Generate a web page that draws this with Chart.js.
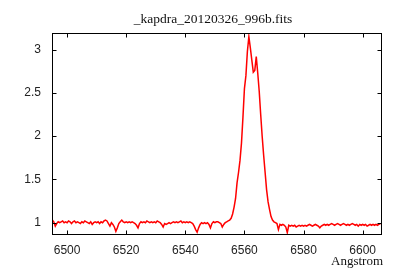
<!DOCTYPE html>
<html><head><meta charset="utf-8">
<script src="https://cdn.jsdelivr.net/npm/chart.js@4.4.1/dist/chart.umd.min.js"></script>
<style>html,body{margin:0;padding:0;background:#fff}#wrap{width:400px;height:280px}</style>
</head><body><div id="wrap"><canvas id="c" width="400" height="280"></canvas></div>
<script>
const chartTitle = '_kapdra_20120326_996b.fits';
const xAxisLabel = 'Angstrom';
// linear dispersion of the spectrum (start wavelength and step, Angstrom)
const wavelengthStart = 6495.0;
const wavelengthStep = 0.5;
const flux = [
  1.03,1.01,0.96,0.99,1.01,1.00,1.01,1.02,1.00,1.01, 1.00,1.02,1.01,0.99,1.01,1.02,1.00,1.01,1.00,0.99,
  1.01,1.00,1.02,1.01,1.00,0.99,1.01,0.98,1.00,1.01, 1.00,1.01,0.99,1.01,1.00,1.02,1.03,1.02,0.99,0.96,
  1.00,0.98,0.95,0.90,0.94,0.99,1.01,1.03,1.01,1.00, 1.01,1.00,1.01,1.00,1.01,1.00,0.99,0.97,0.94,0.99,
  1.01,1.00,1.01,1.00,1.02,1.01,1.00,1.01,1.00,1.01, 1.00,1.02,1.01,1.00,0.98,0.95,0.99,0.98,0.99,1.00,
  0.99,1.00,1.01,1.00,1.01,1.00,1.01,1.02,1.00,1.01, 1.00,1.01,1.00,1.01,1.00,0.99,0.96,0.92,0.89,0.94,
  0.98,1.00,0.99,1.00,0.99,1.00,0.98,0.94,0.99,1.01, 1.00,1.01,1.01,1.00,0.99,0.95,0.98,1.00,1.01,1.02,
  1.03,1.05,1.10,1.18,1.28,1.46,1.58,1.72,1.92,2.22, 2.55,2.70,2.98,3.15,3.02,2.88,2.74,2.76,2.92,2.73,
  2.52,2.25,2.00,1.78,1.58,1.38,1.24,1.15,1.07,1.03, 1.01,1.00,0.99,0.92,0.98,0.97,0.98,0.97,0.95,0.885,
  0.97,0.96,0.97,0.96,0.97,0.95,0.96,0.97,0.96,0.97, 0.96,0.97,0.96,0.97,0.98,0.97,0.96,0.97,0.98,0.97,
  0.96,0.94,0.96,0.97,0.98,0.97,0.98,0.97,0.98,0.99, 0.98,0.97,0.98,0.99,0.98,0.97,0.98,0.99,0.98,0.97,
  0.98,0.97,0.98,0.99,0.98,0.97,0.98,0.96,0.98,0.97, 0.98,0.97,0.98,0.96,0.97,0.98,0.97,0.98,0.97,0.98,
  0.97,0.98,0.99
];
const xTicks = [6500, 6520, 6540, 6560, 6580, 6600];
const yTicks = [1, 1.5, 2, 2.5, 3];

const points = flux.map((f, i) => ({ x: wavelengthStart + i * wavelengthStep, y: f }));

const tickFont = { family: 'Liberation Sans', size: 12 };

const framePlugin = {
  id: 'frame',
  afterDraw(chart) {
    const { ctx, chartArea: a, scales: { x, y } } = chart;
    const L = Math.floor(a.left) + 0.5, R = Math.floor(a.right) + 0.5;
    const T = Math.floor(a.top) + 0.5, B = Math.floor(a.bottom) + 0.5;
    ctx.save();
    ctx.strokeStyle = '#000';
    ctx.lineWidth = 1;
    ctx.strokeRect(L, T, R - L, B - T);
    const len = 4;
    ctx.beginPath();
    xTicks.forEach(v => {
      const px = Math.round(x.getPixelForValue(v)) + 0.5;
      ctx.moveTo(px, B); ctx.lineTo(px, B - len);
      ctx.moveTo(px, T); ctx.lineTo(px, T + len);
    });
    yTicks.forEach(v => {
      const py = Math.round(y.getPixelForValue(v)) + 0.5;
      ctx.moveTo(L, py); ctx.lineTo(L + len, py);
      ctx.moveTo(R, py); ctx.lineTo(R - len, py);
    });
    ctx.stroke();
    ctx.fillStyle = '#111';
    ctx.font = '13.5px "Liberation Serif"';
    ctx.textAlign = 'center';
    ctx.textBaseline = 'middle';
    ctx.fillText(chartTitle, 213, 19);
    ctx.font = '13px "Liberation Serif"';
    ctx.textAlign = 'right';
    ctx.fillText(xAxisLabel, 383, 262);
    ctx.restore();
  }
};

new Chart(document.getElementById('c'), {
  type: 'line',
  data: {
    datasets: [{
      data: points,
      borderColor: '#ff0000',
      borderWidth: 1.5,
      pointRadius: 0,
      tension: 0,
      fill: false
    }]
  },
  options: {
    responsive: false,
    animation: false,
    events: [],
    layout: { padding: { left: 0, top: 33, right: 19, bottom: 0 } },
    plugins: { legend: { display: false }, tooltip: { enabled: false }, title: { display: false } },
    scales: {
      x: {
        type: 'linear',
        min: 6494.9,
        max: 6606.2,
        afterBuildTicks: s => { s.ticks = xTicks.map(v => ({ value: v })); },
        afterFit: s => { s.height = 46; },
        grid: { display: false, drawTicks: false },
        border: { display: false },
        ticks: { callback: v => String(v), font: tickFont, color: '#222', padding: 9, maxRotation: 0, autoSkip: false }
      },
      y: {
        type: 'linear',
        min: 0.869,
        max: 3.193,
        afterBuildTicks: s => { s.ticks = yTicks.map(v => ({ value: v })); },
        afterFit: s => { s.width = 52; },
        grid: { display: false, drawTicks: false },
        border: { display: false },
        ticks: { callback: v => String(v), font: tickFont, color: '#222', padding: 11 }
      }
    }
  },
  plugins: [framePlugin]
});
</script>
</body></html>
